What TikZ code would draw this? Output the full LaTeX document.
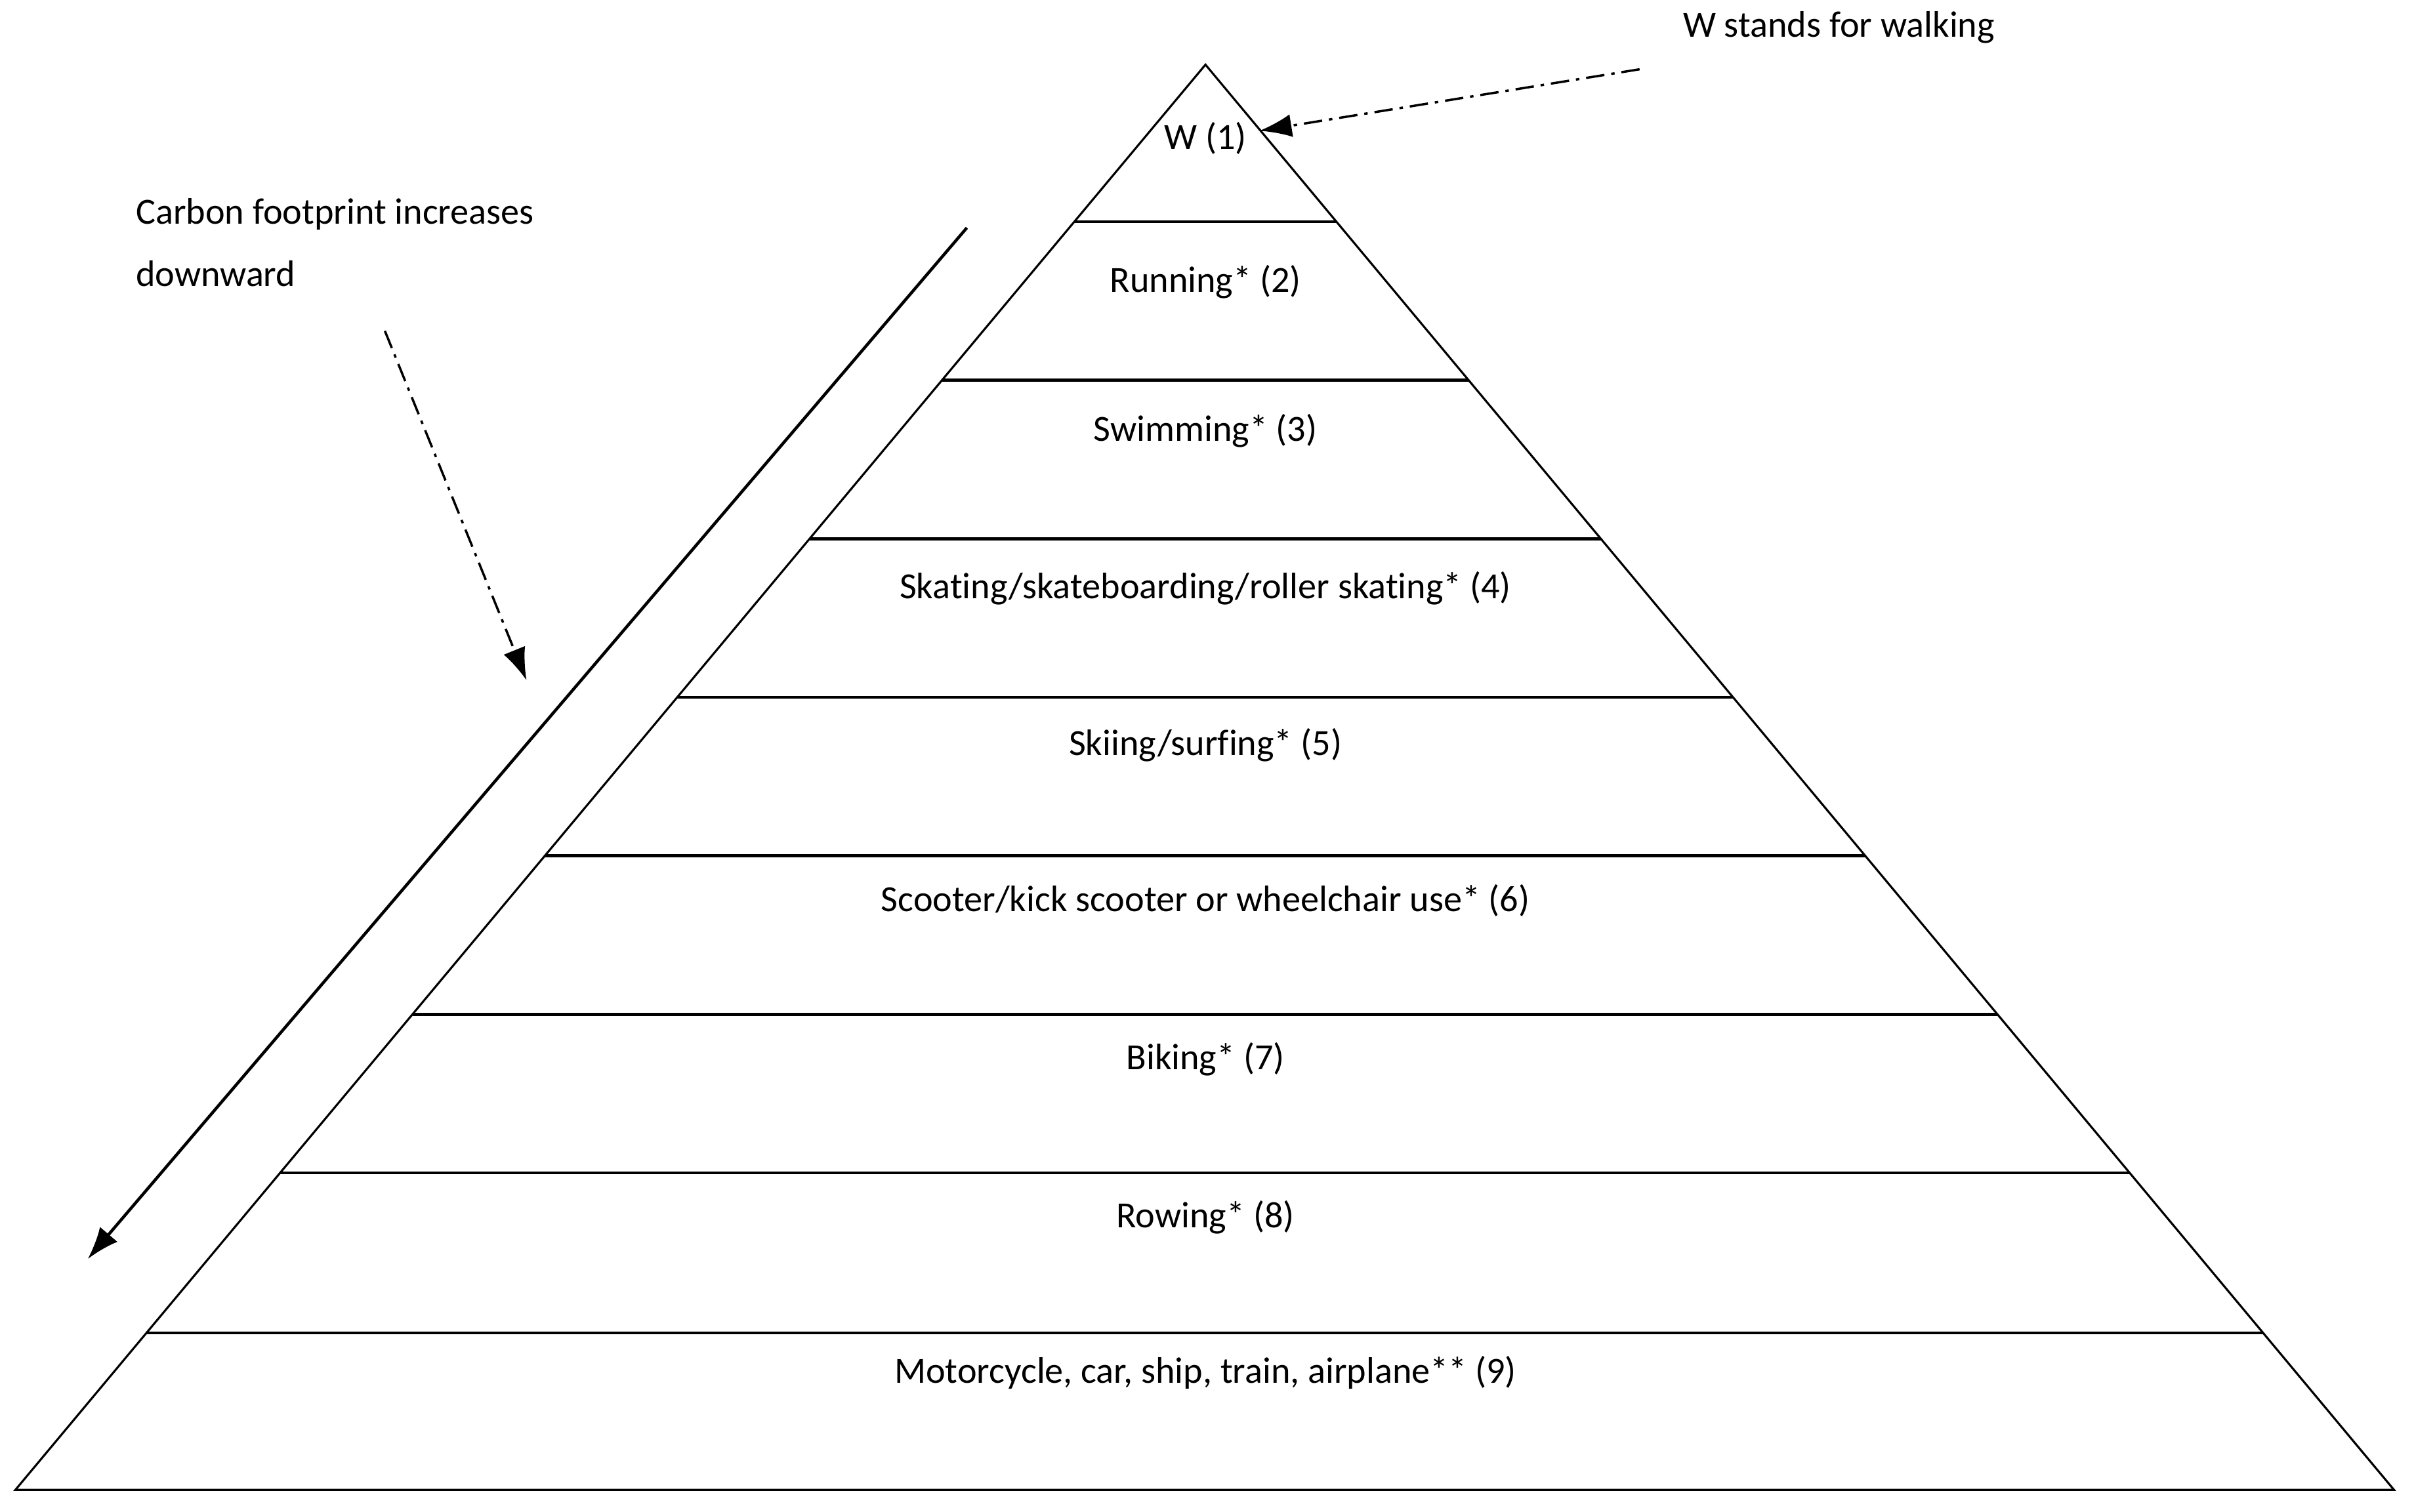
\documentclass[tikz,border=0pt]{standalone}
\usepackage{fontspec}
\setmainfont{Carlito}[Ligatures={NoCommon}]
\usetikzlibrary{calc,arrows.meta}
\begin{document}
\begin{tikzpicture}[x=0.023463cm,y=-0.023463cm,
  lbl/.style={font=\fontsize{16}{19}\selectfont,inner sep=0pt},
  edge/.style={line width=0.9pt},
  band/.style={line width=1.3pt},
  dd/.style={line width=1pt,dash pattern=on 8pt off 3pt on 1.5pt off 3pt,-{Latex[length=14pt,width=10pt]}}]
\useasboundingbox (0,0) rectangle (1568,982);
\coordinate (apex) at (783,42);
\coordinate (bl) at (10,968);
\coordinate (br) at (1555,968);
\draw[edge] (apex) -- (bl) -- (br) -- cycle;
\foreach \y [count=\i] in {144,247,350,453,556,659,762,866}{
  \pgfmathsetmacro{\t}{(\y-42)/926}
  \coordinate (l\i) at ($(apex)!\t!(bl)$);
  \coordinate (r\i) at ($(apex)!\t!(br)$);
  \draw[band] (l\i) -- (r\i);
}
\node[lbl] (t1) at (783,90) {W (1)};
\node[lbl] (t2) at (783,183) {Running* (2)};
\node[lbl] (t3) at (783,280) {Swimming* (3)};
\node[lbl] (t4) at (783,382) {Skating/skateboarding/roller skating* (4)};
\node[lbl] (t5) at (783,484) {Skiing/surfing* (5)};
\node[lbl] (t6) at (783,585) {Scooter/kick scooter or wheelchair use* (6)};
\node[lbl] (t7) at (783,688) {Biking* (7)};
\node[lbl] (t8) at (783,791) {Rowing* (8)};
\node[lbl] (t9) at (783,892) {Motorcycle, car, ship, train, airplane** (9)};
\node[lbl,anchor=west] (ws) at (1093,18) {W stands for walking};
\node[lbl,anchor=west] (cf) at (88,139) {Carbon footprint increases};
\node[lbl,anchor=west] (cf2) at (88,178) {downward};
\coordinate (a1) at (1065,45);
\coordinate (a2) at (818,85);
\draw[dd] (a1) -- (a2);
\coordinate (b1) at (250,215);
\coordinate (b2) at (342,442);
\draw[dd] (b1) -- (b2);
\coordinate (s1) at (628,148);
\coordinate (s2) at (57,818);
\draw[line width=1.3pt,-{Latex[length=14pt,width=10pt]}] (s1) -- (s2);
\end{tikzpicture}
\end{document}
